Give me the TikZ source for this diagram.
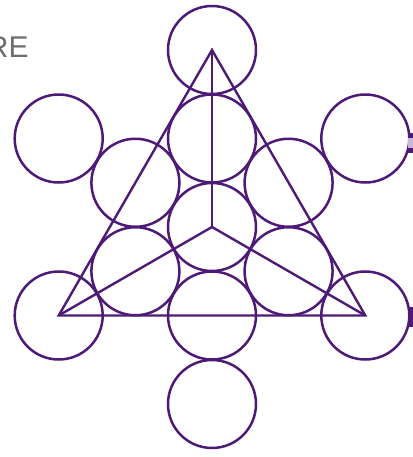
\documentclass[tikz,border=0pt]{standalone}
\usepackage{fontspec}
\usepackage{tikz}
\usetikzlibrary{positioning}
\newfontfamily\capfont{Liberation Sans}
\definecolor{seedink}{HTML}{4E1A78}
\definecolor{seedpale}{HTML}{C9B8DC}
\definecolor{capgray}{HTML}{6E6E70}
\tikzset{
  seedcirc/.style={circle,draw=seedink,line width=1.25pt,minimum size=44pt,inner sep=0pt},
  seedline/.style={draw=seedink,line width=1.2pt,line join=miter},
  capnote/.style={text=capgray,inner sep=0pt,font=\capfont\fontsize{15}{17}\selectfont}
}
\begin{document}
\begin{tikzpicture}[x=0.5pt,y=-0.5pt]
  \useasboundingbox (0,0) rectangle (413,457);
  % centre column
  \node[seedcirc] (top)  at (212,50) {};
  \node[seedcirc] (up)   at (212,138.5) {};
  \node[seedcirc] (mid)  at (212,227) {};
  \node[seedcirc] (dn)   at (212,315.5) {};
  \node[seedcirc] (bot)  at (212,404) {};
  % inner ring
  \node[seedcirc] (inul) at (135.4,182.75) {};
  \node[seedcirc] (inur) at (288.6,182.75) {};
  \node[seedcirc] (inll) at (135.4,271.25) {};
  \node[seedcirc] (inlr) at (288.6,271.25) {};
  % outer ring
  \node[seedcirc] (oul)  at (58.7,138.5) {};
  \node[seedcirc] (our)  at (365.3,138.5) {};
  \node[seedcirc] (oll)  at (58.7,315.5) {};
  \node[seedcirc] (olr)  at (365.3,315.5) {};

  \draw[seedline] (top.center) -- (oll.center) -- (olr.center) -- cycle;
  \draw[seedline] (mid.center) -- (top.center);
  \draw[seedline] (mid.center) -- (oll.center);
  \draw[seedline] (mid.center) -- (olr.center);

  \node[capnote,anchor=base east] (cap) at (29,57) {RE};

  % clipped bits at the right edge
  \fill[seedink] (408,133) rectangle (414,138);
  \fill[seedpale] (408,138) rectangle (414,148);
  \fill[seedink] (408,148) rectangle (414,153);
  \fill[seedink] (408,307) rectangle (414,327);
\end{tikzpicture}
\end{document}
